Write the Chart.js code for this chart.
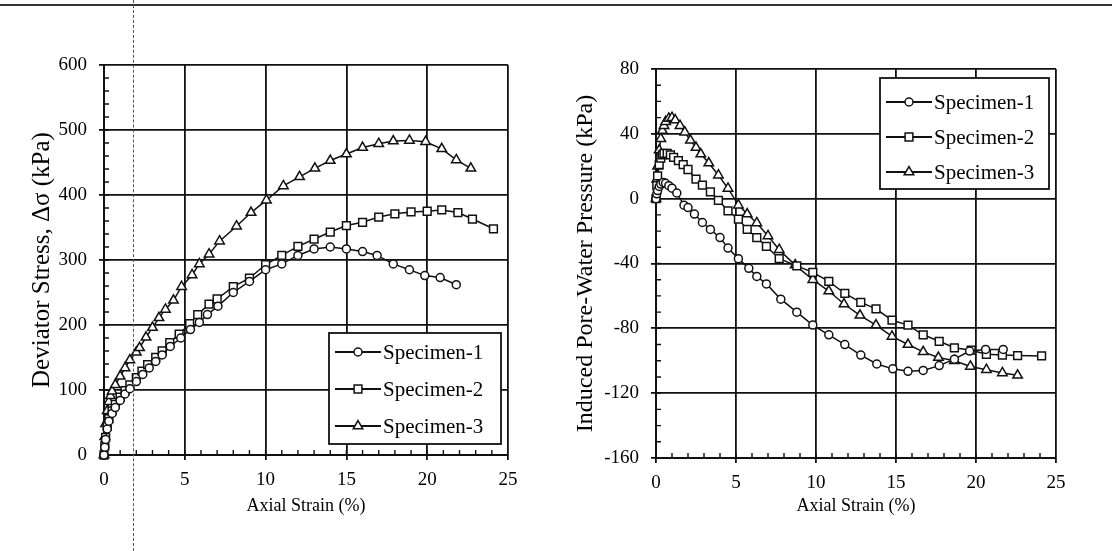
<!DOCTYPE html>
<html>
<head>
<meta charset="utf-8">
<script src="https://cdn.jsdelivr.net/npm/chart.js@4.4.1/dist/chart.umd.min.js"></script>
<style>
  html, body { margin: 0; padding: 0; background: #fff; }
  #page { position: relative; width: 1112px; height: 551px; overflow: hidden; background: #fff; }
  .panel { position: absolute; top: 0; height: 551px; }
  #leftPanel { left: 0; width: 540px; }
  #rightPanel { left: 556px; width: 556px; }
  /* scan marks from the original page */
  .scan-top { position: absolute; left: 0; top: 4px; width: 1112px; height: 0; border-top: 2px solid #333; }
  .scan-dash { position: absolute; left: 133px; top: 0; height: 551px; width: 0; border-left: 1px dashed #555; }
</style>
</head>
<body>
<div id="page">
  <div class="panel" id="leftPanel"><canvas id="stressChart"></canvas></div>
  <div class="panel" id="rightPanel"><canvas id="pwpChart"></canvas></div>
  <div class="scan-top"></div>
  <div class="scan-dash"></div>
</div>
<script>
// ---- data: deviator stress vs axial strain ----
const stress1Strain = [0, 0.05, 0.1, 0.2, 0.3, 0.5, 0.7, 1.0, 1.3, 1.6, 2.0, 2.4, 2.8, 3.2, 3.6, 4.1, 4.75, 5.35, 5.9, 6.4, 7.05, 8.0, 9.0, 10.0, 11.0, 12.0, 13.0, 14.0, 15.0, 16.0, 16.9, 17.9, 18.9, 19.85, 20.8, 21.8];
const stress1 = [0, 12, 24, 40, 52, 64, 73, 84, 94, 102, 113, 124, 134, 144, 154, 167, 180, 193, 204, 216, 229, 250, 267, 285, 294, 307, 317, 320, 317, 313, 307, 294, 285, 276, 273, 262];

const stress2Strain = [0, 0.05, 0.1, 0.2, 0.3, 0.5, 0.7, 1.0, 1.3, 1.6, 2.0, 2.35, 2.7, 3.2, 3.6, 4.07, 4.65, 5.3, 5.8, 6.5, 7.0, 8.0, 9.0, 10.0, 11.0, 12.0, 13.0, 14.0, 15.0, 16.0, 17.0, 18.0, 19.0, 20.0, 20.9, 21.9, 22.8, 24.1];
const stress2 = [0, 14, 27, 44, 56, 68, 78, 89, 99, 108, 119, 129, 139, 150, 160, 173, 186, 202, 216, 232, 240, 259, 272, 293, 307, 321, 332, 343, 353, 358, 366, 371, 374, 375, 377, 373, 363, 348];

const stress3Strain = [0, 0.05, 0.1, 0.2, 0.3, 0.4, 0.5, 0.7, 1.0, 1.3, 1.6, 2.0, 2.2, 2.6, 3.0, 3.4, 3.8, 4.3, 4.8, 5.45, 5.9, 6.5, 7.15, 8.2, 9.1, 10.05, 11.1, 12.1, 13.05, 14.0, 15.0, 16.0, 17.0, 17.9, 18.9, 19.9, 20.9, 21.8, 22.7];
const stress3 = [0, 28, 48, 68, 82, 91, 98, 108, 121, 134, 146, 158, 165, 181, 196, 211, 224, 238, 259, 277, 294, 309, 329, 352, 373, 392, 414, 428, 441, 453, 463, 473, 479, 483, 484, 482, 471, 454, 441];

// ---- data: induced pore-water pressure vs axial strain ----
const pwp1Strain = [0, 0.05, 0.1, 0.2, 0.3, 0.45, 0.6, 0.8, 1.0, 1.3, 1.75, 2.0, 2.4, 2.9, 3.4, 4.0, 4.5, 5.15, 5.8, 6.3, 6.9, 7.8, 8.8, 9.8, 10.8, 11.8, 12.8, 13.8, 14.8, 15.75, 16.7, 17.7, 18.65, 19.6, 20.6, 21.7];
const pwp1 = [0, 3, 5, 7.5, 9, 10, 9.5, 8, 6.5, 3.5, -4, -5.5, -9.5, -14.7, -19, -24, -30.5, -37, -43, -48, -52.6, -62, -70, -78, -84, -90, -96.5, -102, -105, -106.5, -106, -103, -99, -94, -93, -93];

const pwp2Strain = [0, 0.05, 0.1, 0.2, 0.3, 0.4, 0.5, 0.7, 0.9, 1.1, 1.4, 1.7, 2.0, 2.5, 2.9, 3.4, 3.9, 4.5, 5.15, 5.7, 6.3, 6.9, 7.7, 8.8, 9.8, 10.8, 11.8, 12.8, 13.75, 14.75, 15.75, 16.7, 17.7, 18.65, 19.7, 20.65, 21.65, 22.6, 24.1];
const pwp2 = [0, 8, 14, 21, 25, 27, 28, 28, 27, 25.5, 23.5, 21, 18, 12, 8.4, 4.2, -1, -7.5, -12.6, -19, -24, -29.5, -37, -41.5, -45.5, -51, -58.5, -64, -68, -75, -78, -84, -88, -92, -93.5, -96, -96.5, -96.8, -97];

const pwp3Strain = [0, 0.05, 0.1, 0.2, 0.3, 0.4, 0.5, 0.6, 0.8, 1.0, 1.2, 1.5, 1.8, 2.15, 2.5, 2.8, 3.3, 3.9, 4.5, 5.15, 5.7, 6.3, 7.0, 7.7, 8.7, 9.8, 10.8, 11.75, 12.75, 13.75, 14.75, 15.75, 16.7, 17.65, 18.65, 19.65, 20.65, 21.65, 22.6];
const pwp3 = [0, 12, 20, 30, 37, 42, 45, 47.5, 49.5, 50, 48.5, 45, 41, 36, 31.5, 27.5, 22, 14.5, 6.3, -4, -9.5, -15, -23, -31.5, -41, -50, -57, -65, -72, -78, -85, -90, -94.5, -98, -100, -103.5, -105.5, -107.5, -109];

const seriesNames = ["Specimen-1", "Specimen-2", "Specimen-3"];
const markerStyles = ["circle", "rect", "triangle"];
const markerSizes = [4, 5.5, 5.5];

const strainTicks = { min: 0, max: 25, step: 5, minor: 1 };
const stressTicks = { min: 0, max: 600, step: 100, minor: 20 };
const pwpTicks = { min: -160, max: 80, step: 40, minor: 10 };

const INK = "#111";
const SERIF = "'Liberation Serif', 'Times New Roman', serif";

Chart.defaults.font.family = SERIF;
Chart.defaults.color = "#000";

function pairUp(xs, ys) {
  return xs.map((x, i) => ({ x: x, y: ys[i] }));
}

function makeDatasets(strains, values) {
  return strains.map((s, i) => ({
    label: seriesNames[i],
    data: pairUp(s, values[i]),
    showLine: true,
    borderColor: INK,
    borderWidth: 1.5,
    pointStyle: markerStyles[i],
    pointRadius: markerSizes[i],
    pointBackgroundColor: "#fff",
    pointBorderColor: INK,
    pointBorderWidth: 1.5,
    clip: false
  }));
}

// small inward ticks between the gridlines
const minorTicks = {
  id: "minorTicks",
  beforeDatasetsDraw(chart, args, opts) {
    const { ctx, chartArea, scales } = chart;
    ctx.save();
    ctx.strokeStyle = INK;
    ctx.lineWidth = 1.4;
    ctx.beginPath();
    const xs = scales.x, ys = scales.y;
    const nx = Math.round((xs.max - xs.min) / opts.x);
    for (let i = 1; i < nx; i++) {
      const px = xs.getPixelForValue(xs.min + i * opts.x);
      ctx.moveTo(px, chartArea.bottom);
      ctx.lineTo(px, chartArea.bottom - opts.len);
    }
    const ny = Math.round((ys.max - ys.min) / opts.y);
    for (let i = 1; i < ny; i++) {
      const py = ys.getPixelForValue(ys.min + i * opts.y);
      ctx.moveTo(chartArea.left, py);
      ctx.lineTo(chartArea.left + opts.len, py);
    }
    ctx.stroke();
    ctx.restore();
  }
};

// boxed legend with line + marker samples
const boxLegend = {
  id: "boxLegend",
  afterDraw(chart, args, opts) {
    const { ctx, chartArea } = chart;
    const x0 = chartArea.right - opts.right - opts.width;
    const y0 = opts.anchor === "top"
      ? chartArea.top + opts.offset
      : chartArea.bottom - opts.offset - opts.height;
    ctx.save();
    ctx.fillStyle = "#fff";
    ctx.fillRect(x0, y0, opts.width, opts.height);
    ctx.strokeStyle = INK;
    ctx.lineWidth = 1.8;
    ctx.strokeRect(x0, y0, opts.width, opts.height);
    ctx.font = opts.fontSize + "px " + SERIF;
    ctx.textBaseline = "middle";
    chart.data.datasets.forEach((ds, i) => {
      const ry = y0 + opts.rowTop + i * opts.rowGap;
      ctx.strokeStyle = INK;
      ctx.lineWidth = 1.8;
      ctx.beginPath();
      ctx.moveTo(x0 + 6, ry);
      ctx.lineTo(x0 + 52, ry);
      ctx.stroke();
      ctx.fillStyle = "#fff";
      ctx.lineWidth = 1.5;
      Chart.helpers.drawPoint(ctx, { pointStyle: ds.pointStyle, radius: ds.pointRadius, rotation: 0, borderWidth: 1.5 }, x0 + 29, ry);
      ctx.fillStyle = "#000";
      ctx.fillText(ds.label, x0 + 54, ry + 1);
    });
    ctx.restore();
  }
};

function axisX(titlePadBottom) {
  return {
    type: "linear",
    min: strainTicks.min, max: strainTicks.max,
    ticks: { stepSize: strainTicks.step, padding: 9, color: "#000", font: { size: 19 } },
    grid: { color: INK, lineWidth: 1.8, tickLength: 5, tickColor: INK },
    border: { color: INK, width: 2 },
    title: { display: true, text: "Axial Strain (%)", color: "#000", font: { size: 18 }, padding: { top: 0, bottom: titlePadBottom } },
    afterFit(scale) { scale.height = 551 - scale.chart.options.plotBottom; }
  };
}

function axisY(t, text, titleSize, titlePad, width) {
  return {
    type: "linear",
    min: t.min, max: t.max,
    ticks: { stepSize: t.step, padding: 12, color: "#000", font: { size: 19 } },
    grid: { color: INK, lineWidth: 1.8, tickLength: 5, tickColor: INK },
    border: { color: INK, width: 2 },
    title: { display: true, text: text, color: "#000", font: { size: titleSize }, padding: { top: titlePad, bottom: 0 } },
    afterFit(scale) { scale.width = width; }
  };
}

// Left chart: deviator stress
new Chart(document.getElementById("stressChart").getContext("2d"), {
  type: "scatter",
  data: {
    datasets: makeDatasets([stress1Strain, stress2Strain, stress3Strain], [stress1, stress2, stress3])
  },
  plugins: [minorTicks, boxLegend],
  options: {
    responsive: true,
    maintainAspectRatio: false,
    animation: false,
    plotBottom: 455,
    layout: { padding: { top: 65, right: 32, bottom: 0, left: 0 } },
    plugins: {
      legend: { display: false },
      tooltip: { enabled: false },
      minorTicks: { x: strainTicks.minor, y: stressTicks.minor, len: 5 },
      boxLegend: { anchor: "bottom", right: 7, offset: 11, width: 172, height: 111, rowTop: 19, rowGap: 37, fontSize: 21 }
    },
    scales: {
      x: axisX(34),
      y: axisY(stressTicks, "Deviator Stress, \u0394\u03c3 (kPa)", 25, 27, 104)
    }
  }
});

// Right chart: induced pore-water pressure
new Chart(document.getElementById("pwpChart").getContext("2d"), {
  type: "scatter",
  data: {
    datasets: makeDatasets([pwp1Strain, pwp2Strain, pwp3Strain], [pwp1, pwp2, pwp3])
  },
  plugins: [minorTicks, boxLegend],
  options: {
    responsive: true,
    maintainAspectRatio: false,
    animation: false,
    plotBottom: 458,
    layout: { padding: { top: 69, right: 56, bottom: 0, left: 0 } },
    plugins: {
      legend: { display: false },
      tooltip: { enabled: false },
      minorTicks: { x: strainTicks.minor, y: pwpTicks.minor, len: 5 },
      boxLegend: { anchor: "top", right: 7, offset: 9, width: 169, height: 111, rowTop: 24, rowGap: 35, fontSize: 21 }
    },
    scales: {
      x: axisX(34),
      y: axisY(pwpTicks, "Induced Pore-Water Pressure (kPa)", 24, 15, 100)
    }
  }
});
</script>
</body>
</html>
